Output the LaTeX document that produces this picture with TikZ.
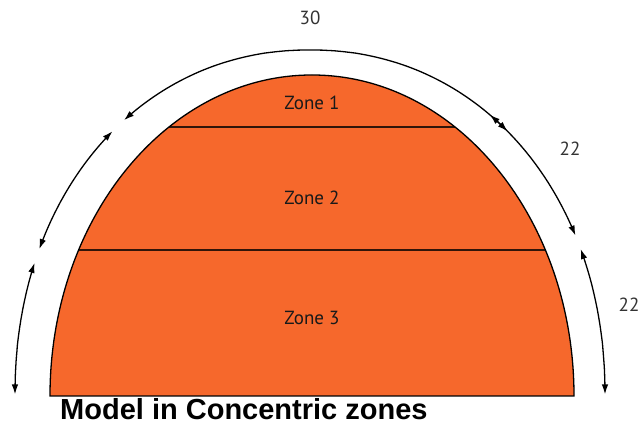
\documentclass[tikz,border=0pt]{standalone}
\usepackage{fontspec}
\setmainfont{PT Sans}
\newfontfamily\titlefont{Liberation Sans}
\usetikzlibrary{arrows.meta}
\definecolor{zoneorange}{HTML}{F6682C}
\definecolor{numgray}{HTML}{333333}
\begin{document}
\begin{tikzpicture}[x=1pt,y=1pt,
  declare function={
    ox(\t)=-2+295*(cos(\t)<0 ? -1 : 1)*(max(abs(cos(\t)),0.0001))^0.952;
    oy(\t)=346*(max(sin(\t),0.0001))^0.952;
  },
  dimarc/.style={line width=1.3pt, {Latex[length=10pt,width=6.5pt]}-{Latex[length=10pt,width=6.5pt]}},
  zonelabel/.style={font=\fontsize{19}{22}\selectfont, text=black!90},
  numlabel/.style={font=\fontsize{19}{22}\selectfont, text=numgray},
  sepline/.style={line width=1.8pt, draw=black!80!zoneorange}
]
\useasboundingbox (-312,-31) rectangle (332,396);
% dome
\fill[zoneorange] (-262,0) arc[start angle=180,end angle=0,x radius=262,y radius=321] -- cycle;
\coordinate (z1l) at (-143,269);
\coordinate (z1r) at (143,269);
\coordinate (z2l) at (-233.3,146);
\coordinate (z2r) at (233.3,146);
\draw[sepline] (z1l) -- (z1r);
\draw[sepline] (z2l) -- (z2r);
\draw[line width=1.3pt] (-262,0) arc[start angle=180,end angle=0,x radius=262,y radius=321] -- cycle;
% zone labels
\node[zonelabel] (zone1) at (0,293) {Zone 1};
\node[zonelabel] (zone2) at (0,198) {Zone 2};
\node[zonelabel] (zone3) at (0,78) {Zone 3};
% dimension arcs
\draw[dimarc] plot[domain=49:128, samples=80, variable=\t] ({ox(\t)},{oy(\t)});
\draw[dimarc] plot[domain=131:156, samples=40, variable=\t] ({ox(\t)},{oy(\t)});
\draw[dimarc] plot[domain=158.5:179.8, samples=40, variable=\t] ({ox(\t)},{oy(\t)});
\draw[dimarc] plot[domain=53.5:26.5, samples=40, variable=\t] ({ox(\t)},{oy(\t)});
\draw[dimarc] plot[domain=24:0.2, samples=40, variable=\t] ({ox(\t)},{oy(\t)});
% numbers
\node[numlabel] (n30) at (-2,378) {30};
\node[numlabel] (n22a) at (258,247) {22};
\node[numlabel] (n22b) at (317,91) {22};
% title
\node[anchor=base west, inner sep=0pt, font=\titlefont\bfseries\fontsize{29}{32}\selectfont] (title) at (-252,-24) {Model in Concentric zones};
\end{tikzpicture}
\end{document}
